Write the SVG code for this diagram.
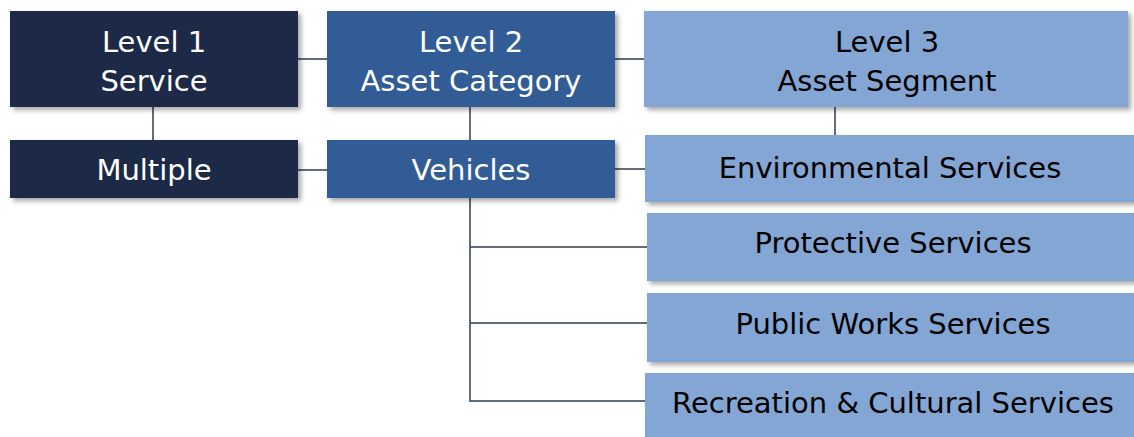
<svg xmlns="http://www.w3.org/2000/svg" width="1134" height="437" viewBox="0 0 1134 437">
<style>
.t{font-family:"DejaVu Sans",Verdana,sans-serif;font-size:29px;text-anchor:middle}
.w{fill:#ffffff}
.k{fill:#000000}
.d{fill:#1b2a47}
.m{fill:#305c96}
.l{fill:#83a6d5}
.c{stroke:#2e3d55;stroke-width:1.5;fill:none}
</style>
<defs>
<filter id="sh" x="-5%" y="-20%" width="115%" height="150%">
<feDropShadow dx="3" dy="3" stdDeviation="2.5" flood-color="#000" flood-opacity="0.35"/>
</filter>
</defs>
<g id="connectors">
<path class="c" d="M298 59H327M615 59H644"/>
<path class="c" d="M153 107V140M470 107V140M835 107V135"/>
<path class="c" d="M298 170H327M615 169H645"/>
<path class="c" d="M470 198V401H647M470 247H647M470 323H647"/>
</g>
<g id="level1" filter="url(#sh)"><rect class="d" x="10" y="11" width="288" height="96"/></g>
<text class="t w" x="154" y="52">Level 1</text><text class="t w" x="154" y="91">Service</text>
<g id="level2" filter="url(#sh)"><rect class="m" x="327" y="11" width="288" height="96"/></g>
<text class="t w" x="471" y="52">Level 2</text><text class="t w" x="471" y="91">Asset Category</text>
<g id="level3" filter="url(#sh)"><rect class="l" x="644" y="11" width="484" height="96"/></g>
<text class="t k" x="887" y="52">Level 3</text><text class="t k" x="887" y="91">Asset Segment</text>
<g id="multiple" filter="url(#sh)"><rect class="d" x="10" y="140" width="288" height="58"/></g>
<text class="t w" x="154" y="180">Multiple</text>
<g id="vehicles" filter="url(#sh)"><rect class="m" x="327" y="140" width="288" height="58"/></g>
<text class="t w" x="471" y="180">Vehicles</text>
<g id="environmental" filter="url(#sh)"><rect class="l" x="645" y="135" width="490" height="67"/></g>
<text class="t k" x="890" y="178">Environmental Services</text>
<g id="protective" filter="url(#sh)"><rect class="l" x="647" y="213" width="490" height="68"/></g>
<text class="t k" x="893" y="253">Protective Services</text>
<g id="publicworks" filter="url(#sh)"><rect class="l" x="647" y="293" width="490" height="69"/></g>
<text class="t k" x="893" y="334">Public Works Services</text>
<g id="recreation" filter="url(#sh)"><rect class="l" x="645" y="373" width="492" height="70"/></g>
<text class="t k" x="893" y="413">Recreation &amp; Cultural Services</text>
</svg>
